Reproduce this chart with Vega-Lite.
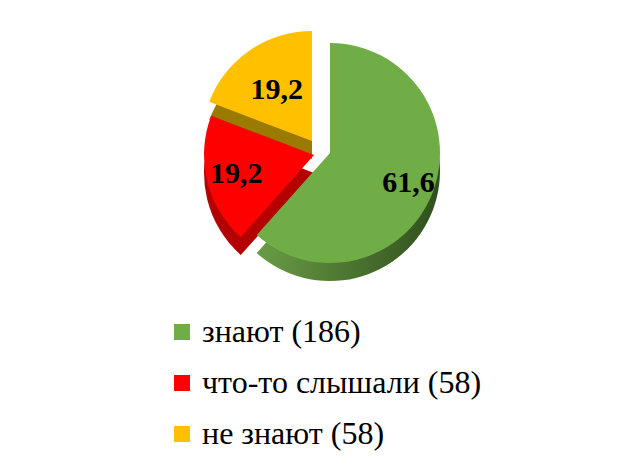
{
  "$schema": "https://vega.github.io/schema/vega-lite/v6.json",
  "width": 660,
  "height": 306,
  "padding": {"left": 0, "top": 0, "right": 0, "bottom": 160},
  "autosize": {"type": "none"},
  "background": "white",
  "config": {
    "view": {"stroke": null},
    "legend": {"symbolType": "square", "symbolSize": 256, "symbolStrokeWidth": 0,
      "labelFont": "Liberation Serif", "labelFontSize": 32, "labelColor": "#000000",
      "rowPadding": 19, "labelOffset": 4, "padding": 0, "labelLimit": 400},
    "locale": {"number": {"decimal": ",", "thousands": " ", "grouping": [3], "currency": ["", ""]}}
  },
  "data": {
    "values": [
      {"group": "знают (186)", "value": 61.6, "order": 1},
      {"group": "что-то слышали (58)", "value": 19.2, "order": 2},
      {"group": "не знают (58)", "value": 19.2, "order": 3}
    ]
  },
  "transform": [
    {"stack": "value", "groupby": [], "sort": [{"field": "order", "order": "ascending"}], "as": ["v0", "v1"]},
    {"calculate": "(datum.v0 + datum.v1) / 2", "as": "mid"}
  ],
  "layer": [
    {
      "transform": [{"filter": "datum.order == 1"}],
      "mark": {"type": "arc", "radius": 110, "yOffset": 18,
        "color": {"gradient": "linear", "x1": 0, "y1": 0, "x2": 1, "y2": 0,
          "stops": [{"offset": 0, "color": "#6A9C45"}, {"offset": 1, "color": "#2F4F1D"}]}},
      "encoding": {
        "theta": {"field": "v0", "type": "quantitative", "scale": {"domain": [0, 100]}},
        "theta2": {"field": "v1"}
      }
    },
    {
      "transform": [{"filter": "datum.order == 2"}],
      "mark": {"type": "arc", "radius": 110, "xOffset": -16, "yOffset": 20, "color": "#B40000"},
      "encoding": {
        "theta": {"field": "v0", "type": "quantitative", "scale": {"domain": [0, 100]}},
        "theta2": {"field": "v1"}
      }
    },
    {
      "transform": [{"filter": "datum.order == 3"}],
      "mark": {"type": "arc", "radius": 110, "xOffset": -18, "yOffset": 6, "color": "#9A7A00"},
      "encoding": {
        "theta": {"field": "v0", "type": "quantitative", "scale": {"domain": [0, 100]}},
        "theta2": {"field": "v1"}
      }
    },
    {
      "transform": [{"filter": "datum.order == 1"}],
      "mark": {"type": "arc", "radius": 110},
      "encoding": {
        "theta": {"field": "v0", "type": "quantitative", "scale": {"domain": [0, 100]}},
        "theta2": {"field": "v1"},
        "color": {"field": "group", "type": "nominal",
          "scale": {"domain": ["знают (186)", "что-то слышали (58)", "не знают (58)"], "range": ["#70AD47", "#FF0000", "#FFC000"]},
          "legend": {"orient": "none", "legendX": 166, "legendY": 316, "title": null}}
      }
    },
    {
      "transform": [{"filter": "datum.order == 2"}],
      "mark": {"type": "arc", "radius": 110, "xOffset": -16, "yOffset": 2},
      "encoding": {
        "theta": {"field": "v0", "type": "quantitative", "scale": {"domain": [0, 100]}},
        "theta2": {"field": "v1"},
        "color": {"field": "group", "type": "nominal", "legend": {"orient": "none", "legendX": 166, "legendY": 316, "title": null}}
      }
    },
    {
      "transform": [{"filter": "datum.order == 3"}],
      "mark": {"type": "arc", "radius": 110, "xOffset": -18, "yOffset": -12},
      "encoding": {
        "theta": {"field": "v0", "type": "quantitative", "scale": {"domain": [0, 100]}},
        "theta2": {"field": "v1"},
        "color": {"field": "group", "type": "nominal", "legend": {"orient": "none", "legendX": 166, "legendY": 316, "title": null}}
      }
    },
    {
      "transform": [{"filter": "datum.order == 1"}],
      "mark": {"type": "text", "radius": 84, "font": "Liberation Serif", "fontSize": 30, "fontWeight": "bold", "color": "#000000"},
      "encoding": {
        "theta": {"field": "mid", "type": "quantitative", "scale": {"domain": [0, 100]}},
        "text": {"field": "value", "type": "quantitative", "format": ".1f"}
      }
    },
    {
      "transform": [{"filter": "datum.order == 2"}],
      "mark": {"type": "text", "radius": 80, "xOffset": -16, "yOffset": 2, "font": "Liberation Serif", "fontSize": 30, "fontWeight": "bold", "color": "#000000"},
      "encoding": {
        "theta": {"field": "mid", "type": "quantitative", "scale": {"domain": [0, 100]}},
        "text": {"field": "value", "type": "quantitative", "format": ".1f"}
      }
    },
    {
      "transform": [{"filter": "datum.order == 3"}],
      "mark": {"type": "text", "radius": 62, "xOffset": -18, "yOffset": -12, "font": "Liberation Serif", "fontSize": 30, "fontWeight": "bold", "color": "#000000"},
      "encoding": {
        "theta": {"field": "mid", "type": "quantitative", "scale": {"domain": [0, 100]}},
        "text": {"field": "value", "type": "quantitative", "format": ".1f"}
      }
    }
  ]
}
